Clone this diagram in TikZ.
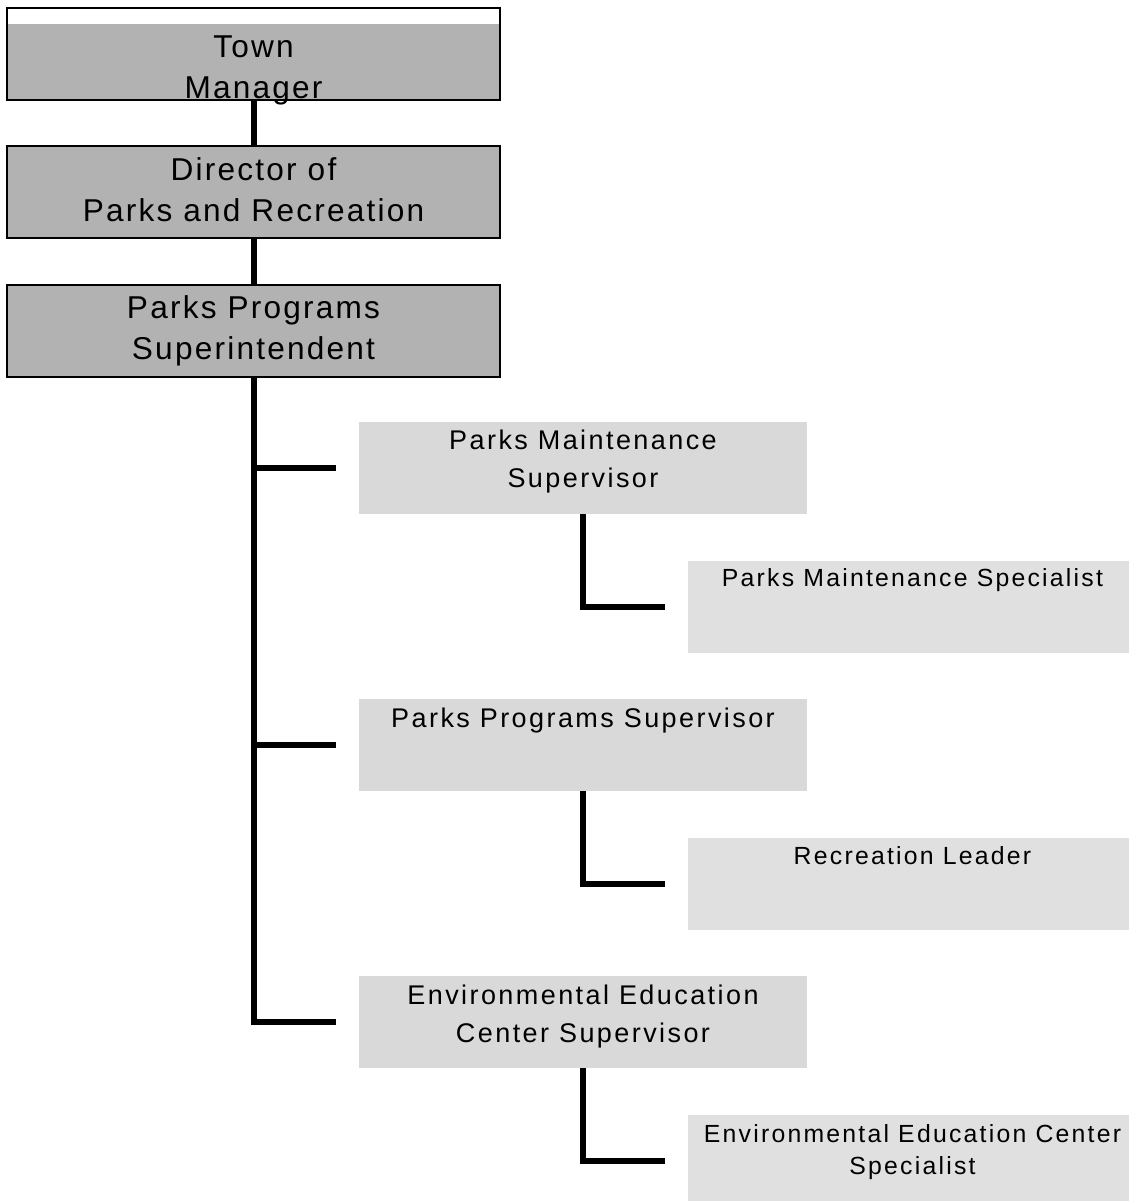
\documentclass[tikz,border=0pt]{standalone}
\usepackage{fontspec}
\setmainfont{Liberation Sans}
\newfontfamily\headfont[LetterSpace=7]{Liberation Sans}
\newfontfamily\unitfont[LetterSpace=9]{Liberation Sans}
\usepackage{xcolor}
\usepackage{tikz}
\usetikzlibrary{positioning,calc}
\definecolor{headgray}{gray}{0.70}
\definecolor{unitgray}{gray}{0.85}
\definecolor{staffgray}{gray}{0.88}

\begin{document}
\begin{tikzpicture}[x=0.5pt,y=-0.5pt,
		headbox/.style={draw, line width=0.75pt, fill=headgray, minimum width=246.5pt, minimum height=46pt, inner sep=0pt, outer sep=0pt},
		unitbox/.style={fill=unitgray, minimum width=224pt, minimum height=46pt, inner sep=0pt, outer sep=0pt},
		staffbox/.style={fill=staffgray, minimum width=220.5pt, minimum height=46pt, inner sep=0pt, outer sep=0pt},
		headtxt/.style={font=\headfont\fontsize{15.8}{20.5}\selectfont, align=center, inner sep=0pt},
		unittxt/.style={font=\unitfont\fontsize{13.5}{19}\selectfont, align=center, inner sep=0pt},
		stafftxt/.style={font=\unitfont\fontsize{12.4}{16}\selectfont, align=center, inner sep=0pt},
		link/.style={line width=3pt}]
		\useasboundingbox (0,0) rectangle (1129,1201);
		\tikzset{topstrip/.style={path picture={\fill[white] (path picture bounding box.north west) rectangle ([yshift=-8pt]path picture bounding box.north east);}}}
		% chain of command
		\node[headbox, topstrip, anchor=north west] (tm) at (7,8) {};
		\node[headbox, below=23pt of tm] (dir) {};
		\node[headbox, below=23.5pt of dir] (pps) {};
		\node[headtxt] (tm-t) at ([yshift=-8pt]tm.center) {Town\\Manager};
		\node[headtxt] (dir-t) at ([yshift=1pt]dir.center) {Director of\\Parks and Recreation};
		\node[headtxt] (pps-t) at (pps.center) {Parks Programs\\Superintendent};
		
		% supervisors
		\node[unitbox, anchor=north west] (pms) at (359,422) {};
		\node[unitbox, below=92.5pt of pms] (ppsv) {};
		\node[unitbox, below=92.5pt of ppsv] (eecs) {};
		\node[unittxt] (pms-t) at ([yshift=3pt]pms.center) {Parks Maintenance\\Supervisor};
		\node[unittxt] (ppsv-t) at ([yshift=-11pt]ppsv.north) {Parks Programs Supervisor};
		\node[unittxt] (eecs-t) at ([yshift=2.5pt]eecs.center) {Environmental Education\\Center Supervisor};
		
		% staff
		\node[staffbox, anchor=north west] (pmsp) at (688,561) {};
		\node[staffbox, below=92.5pt of pmsp] (rl) {};
		\node[staffbox, below=92.5pt of rl] (eecsp) {};
		\node[stafftxt] (pmsp-t) at ([xshift=2pt, yshift=-9.5pt]pmsp.north) {Parks Maintenance Specialist};
		\node[stafftxt] (rl-t) at ([xshift=2pt, yshift=-9pt]rl.north) {Recreation Leader};
		\node[stafftxt] (eecsp-t) at ([xshift=2pt, yshift=-18.5pt]eecsp.north) {Environmental Education Center\\Specialist};
		
		\draw[link] (tm) -- (dir);
		\draw[link] (dir) -- (pps);
		\draw[link] (pps.south) |- ([xshift=-11.5pt]eecs.west);
		\draw[link] (pps.south |- pms.west) -- ([xshift=-11.5pt]pms.west);
		\draw[link] (pps.south |- ppsv.west) -- ([xshift=-11.5pt]ppsv.west);
		\draw[link] (pms.south) |- ([xshift=-11.5pt]pmsp.west);
		\draw[link] (ppsv.south) |- ([xshift=-11.5pt]rl.west);
		\draw[link] (eecs.south) |- ([xshift=-11.5pt]eecsp.west);
	\end{tikzpicture}
\end{document}
